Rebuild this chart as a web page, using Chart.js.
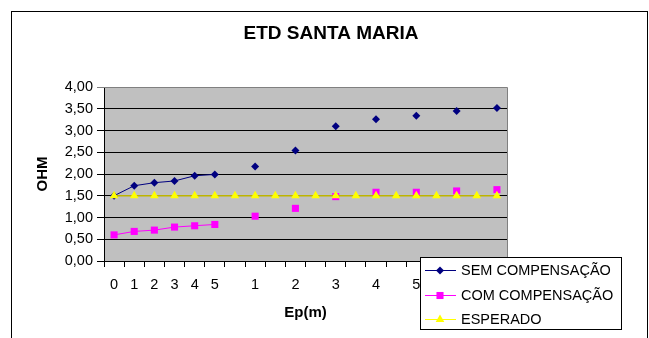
<!DOCTYPE html>
<html>
<head>
<meta charset="utf-8">
<script src="https://cdn.jsdelivr.net/npm/chart.js@4/dist/chart.umd.min.js"></script>
<style>
html,body{margin:0;padding:0;background:#fff;}
#wrap{width:649px;height:338px;}
</style>
</head>
<body>
<div id="wrap"><canvas id="c" width="649" height="338"></canvas></div>
<script>
const categories = ['0','1','2','3','4','5','','1','','2','','3','','4','','5','','6','','7'];
const semCompensacao = [1.50,1.73,1.80,1.84,1.96,1.99,null,2.17,null,2.54,null,3.10,null,3.26,null,3.34,null,3.45,null,3.52];
const comCompensacao = [0.60,0.68,0.71,0.78,0.81,0.84,null,1.03,null,1.21,null,1.48,null,1.58,null,1.58,null,1.61,null,1.64];
const esperado = [1.50,1.50,1.50,1.50,1.50,1.50,1.50,1.50,1.50,1.50,1.50,1.50,1.50,1.50,1.50,1.50,1.50,1.50,1.50,1.50];
const seriesNames = ['SEM COMPENSAÇÃO','COM COMPENSAÇÃO','ESPERADO'];
const yTicks = {min:0, max:4, step:0.5};

const FONT = "'Liberation Sans', Arial, sans-serif";

const framePlugin = {
  id: 'frame',
  beforeDraw(chart) {
    const {ctx, chartArea: a} = chart;
    ctx.save();
    ctx.fillStyle = '#fff';
    ctx.fillRect(0, 0, chart.width, chart.height);
    ctx.fillStyle = '#C0C0C0';
    ctx.fillRect(a.left, a.top, a.right - a.left, a.bottom - a.top);
    ctx.fillStyle = '#000';
    ctx.fillRect(11, 11, 637, 1);
    ctx.fillRect(11, 11, 1, 327);
    ctx.fillRect(647, 11, 1, 327);
    ctx.restore();
  },
  beforeDatasetsDraw(chart) {
    const {ctx, chartArea: a} = chart;
    ctx.save();
    ctx.strokeStyle = '#808080';
    ctx.lineWidth = 1;
    ctx.beginPath();
    ctx.moveTo(a.left, Math.round(a.top) + 0.5);
    ctx.lineTo(Math.round(a.right) + 0.5, Math.round(a.top) + 0.5);
    ctx.lineTo(Math.round(a.right) + 0.5, a.bottom);
    ctx.stroke();
    ctx.restore();
  },
  afterDraw(chart) {
    const ctx = chart.ctx;
    const bx = 420.5, by = 257.5, bw = 201, bh = 72;
    ctx.save();
    ctx.fillStyle = '#fff';
    ctx.fillRect(bx, by, bw, bh);
    ctx.strokeStyle = '#000';
    ctx.lineWidth = 1;
    ctx.strokeRect(bx, by, bw, bh);
    const rows = [270, 294.5, 319];
    const cols = ['#000080', '#FF00FF', '#FFFF00'];
    const styles = ['rectRot', 'rect', 'triangle'];
    const radii = [4, 5, 5];
    ctx.font = '14.5px ' + FONT;
    ctx.textBaseline = 'middle';
    ctx.textAlign = 'left';
    rows.forEach((y, i) => {
      ctx.strokeStyle = cols[i];
      ctx.lineWidth = 1;
      ctx.beginPath();
      ctx.moveTo(425, Math.round(y) + 0.5);
      ctx.lineTo(456, Math.round(y) + 0.5);
      ctx.stroke();
      ctx.fillStyle = cols[i];
      Chart.helpers.drawPoint(ctx, {pointStyle: styles[i], radius: radii[i], borderWidth: 0, rotation: 0}, 440, Math.round(y) + 0.5);
      ctx.fillStyle = '#000';
      ctx.fillText(seriesNames[i], 461, y + 1);
    });
    ctx.restore();
  }
};

new Chart(document.getElementById('c'), {
  type: 'line',
  data: {
    labels: categories,
    datasets: [
      {
        label: seriesNames[0], data: semCompensacao, order: 2,
        borderColor: '#000080', backgroundColor: '#000080', borderWidth: 1,
        pointStyle: 'rectRot', pointRadius: 4, pointBorderWidth: 0, pointBackgroundColor: '#000080',
        spanGaps: false, tension: 0
      },
      {
        label: seriesNames[1], data: comCompensacao, order: 1,
        borderColor: '#FF00FF', backgroundColor: '#FF00FF', borderWidth: 1,
        pointStyle: 'rect', pointRadius: 5, pointBorderWidth: 0, pointBackgroundColor: '#FF00FF',
        spanGaps: false, tension: 0
      },
      {
        label: seriesNames[2], data: esperado, order: 0,
        borderColor: '#BDB400', backgroundColor: '#FFFF00', borderWidth: 1.5,
        pointStyle: 'triangle', pointRadius: 5, pointBorderWidth: 0, pointBackgroundColor: '#FFFF00',
        tension: 0
      }
    ]
  },
  options: {
    responsive: false,
    animation: false,
    devicePixelRatio: 1,
    layout: {padding: {left: 13, right: 0, top: 0, bottom: 0}},
    plugins: {
      legend: {display: false},
      tooltip: {enabled: false},
      title: {
        display: true, text: 'ETD SANTA MARIA', color: '#000',
        font: {family: FONT, size: 19, weight: 'bold'},
        padding: {top: 22.6, bottom: 41.6}
      }
    },
    scales: {
      x: {
        type: 'category',
        offset: true,
        afterFit(scale) { scale.height = 77; },
        grid: {
          offset: true, drawOnChartArea: false, drawTicks: true, tickLength: 6,
          color: '#000', lineWidth: 1
        },
        border: {display: true, color: '#000', width: 1},
        ticks: {
          autoSkip: false, maxRotation: 0, minRotation: 0, padding: 9,
          color: '#000', font: {family: FONT, size: 14.5}
        },
        title: {
          display: true, text: 'Ep(m)', color: '#000',
          font: {family: FONT, size: 15, weight: 'bold'},
          padding: {top: 0, bottom: 16}
        }
      },
      y: {
        min: yTicks.min, max: yTicks.max,
        afterFit(scale) { scale.width = 91; },
        grid: {
          drawOnChartArea: true, drawTicks: true, tickLength: 7,
          color: (c) => (c.tick && c.tick.value === yTicks.max) ? '#808080' : '#000',
          lineWidth: 1
        },
        border: {display: true, color: '#000', width: 1},
        ticks: {
          stepSize: yTicks.step, padding: 4, color: '#000',
          font: {family: FONT, size: 14.5},
          callback: (v) => Number(v).toFixed(2).replace('.', ',')
        },
        title: {
          display: true, text: 'OHM', color: '#000',
          font: {family: FONT, size: 15, weight: 'bold'},
          padding: {top: 20.7, bottom: 0}
        }
      },
      yRight: {
        position: 'right',
        display: true,
        min: yTicks.min, max: yTicks.max,
        afterFit(scale) { scale.width = 142; },
        grid: {display: false, drawTicks: false},
        border: {display: false},
        ticks: {display: false}
      }
    }
  },
  plugins: [framePlugin]
});
</script>
</body>
</html>
